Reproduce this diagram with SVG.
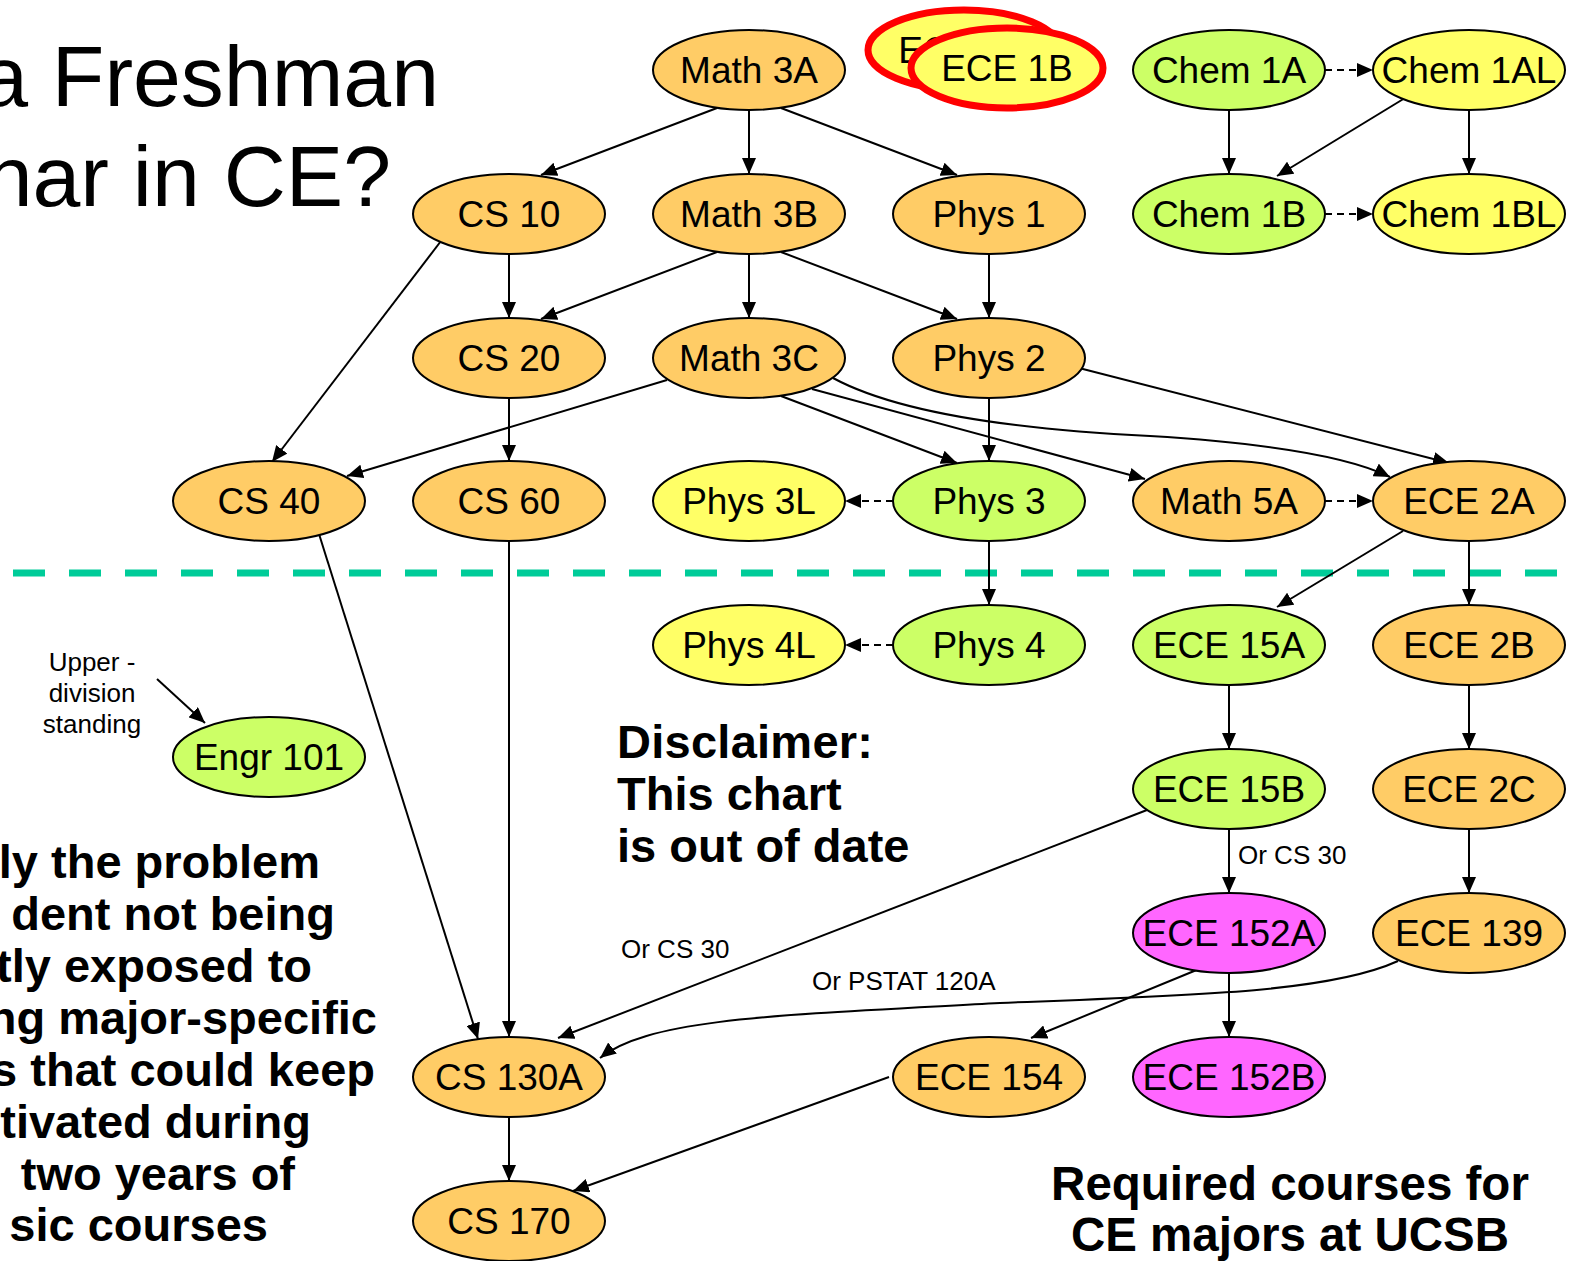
<svg xmlns="http://www.w3.org/2000/svg" width="1573" height="1261" viewBox="0 0 1573 1261">
<style>
.n ellipse{stroke:#000;stroke-width:2}
.or{fill:#FFCC66}.gr{fill:#CCFF66}.ye{fill:#FFFF66}.mg{fill:#FF66FF}
.n text{font-family:"Liberation Sans",Arial,sans-serif;font-size:37px;text-anchor:middle;fill:#000}
.c path{fill:none;stroke:#000;stroke-width:2;marker-end:url(#ah)}
.c path.d{stroke-dasharray:7 5}
.lbl{font-family:"Liberation Sans",Arial,sans-serif;font-size:26px;fill:#000}
.big{font-family:"Liberation Sans",Arial,sans-serif;font-size:86px;fill:#000;text-anchor:end}
.bold{font-family:"Liberation Sans",Arial,sans-serif;font-size:47px;font-weight:bold;fill:#000}
.red{stroke:#FF0000 !important;stroke-width:7 !important}
</style>
<defs>
<marker id="ah" markerUnits="userSpaceOnUse" markerWidth="16" markerHeight="14" refX="16" refY="7" orient="auto">
<path d="M0,0 L16,7 L0,14 z" fill="#000"/>
</marker>
</defs>
<rect width="1573" height="1261" fill="#fff"/>
<text class="big" x="439" y="106">a Freshman</text>
<text class="big" x="391" y="206">nar in CE?</text>
<line x1="13" y1="573" x2="1560" y2="573" stroke="#00CC99" stroke-width="7" stroke-dasharray="32 24"/>
<g class="c" id="connectors">
<path d="M717,108 L541,175"/>
<path d="M749,110 L749,174"/>
<path d="M781,108 L957,175"/>
<path class="d" d="M1325,70 L1373,70"/>
<path d="M1229,110 L1229,174"/>
<path d="M1405,98 L1277,176"/>
<path d="M1469,110 L1469,174"/>
<path class="d" d="M1325,214 L1373,214"/>
<path d="M509,254 L509,318"/>
<path d="M717,252 L541,319"/>
<path d="M749,254 L749,318"/>
<path d="M781,252 L957,319"/>
<path d="M989,254 L989,318"/>
<path d="M441,241 L272,462"/>
<path d="M509,398 L509,461"/>
<path d="M667,380 L347,476"/>
<path d="M781,396 L957,463"/>
<path d="M812,389 L1145,479"/>
<path d="M833,378 Q920,425 1150,436 Q1330,447 1390,477"/>
<path d="M989,398 L989,461"/>
<path d="M1079,368 L1449,463"/>
<path class="d" d="M893,501 L845,501"/>
<path class="d" d="M1325,501 L1373,501"/>
<path d="M989,541 L989,605"/>
<path class="d" d="M893,645 L845,645"/>
<path d="M1403,531 L1277,607"/>
<path d="M1469,541 L1469,605"/>
<path d="M1229,685 L1229,749"/>
<path d="M1469,685 L1469,749"/>
<path d="M1229,829 L1229,893"/>
<path d="M1469,829 L1469,893"/>
<path d="M1147,810 L558,1038"/>
<path d="M1398,961 C1330,992 1200,995 1000,1003 C780,1015 650,1018 600,1058"/>
<path d="M1199,969 L1031,1038"/>
<path d="M1229,973 L1229,1037"/>
<path d="M319,534 L478,1039"/>
<path d="M509,541 L509,1037"/>
<path d="M509,1117 L509,1181"/>
<path d="M889,1077 L573,1191"/>
<path d="M157,679 L205,723"/>
</g>
<text class="lbl" x="1238" y="864">Or CS 30</text>
<text class="lbl" x="621" y="958">Or CS 30</text>
<text class="lbl" x="812" y="990">Or PSTAT 120A</text>
<g class="lbl" text-anchor="middle">
<text x="92" y="671">Upper -</text>
<text x="92" y="702">division</text>
<text x="92" y="733">standing</text>
</g>
<g class="n">
<g id="math3a"><ellipse class="or" cx="749" cy="70" rx="96" ry="40"/><text x="749" y="83">Math 3A</text></g>
<g id="ece1b-back"><ellipse class="ye red" cx="964" cy="50" rx="96" ry="40"/><text x="964" y="63">ECE 1B</text></g>
<g id="ece1b"><ellipse class="ye red" cx="1007" cy="68" rx="96" ry="40"/><text x="1007" y="81">ECE 1B</text></g>
<g id="chem1a"><ellipse class="gr" cx="1229" cy="70" rx="96" ry="40"/><text x="1229" y="83">Chem 1A</text></g>
<g id="chem1al"><ellipse class="ye" cx="1469" cy="70" rx="96" ry="40"/><text x="1469" y="83">Chem 1AL</text></g>
<g id="cs10"><ellipse class="or" cx="509" cy="214" rx="96" ry="40"/><text x="509" y="227">CS 10</text></g>
<g id="math3b"><ellipse class="or" cx="749" cy="214" rx="96" ry="40"/><text x="749" y="227">Math 3B</text></g>
<g id="phys1"><ellipse class="or" cx="989" cy="214" rx="96" ry="40"/><text x="989" y="227">Phys 1</text></g>
<g id="chem1b"><ellipse class="gr" cx="1229" cy="214" rx="96" ry="40"/><text x="1229" y="227">Chem 1B</text></g>
<g id="chem1bl"><ellipse class="ye" cx="1469" cy="214" rx="96" ry="40"/><text x="1469" y="227">Chem 1BL</text></g>
<g id="cs20"><ellipse class="or" cx="509" cy="358" rx="96" ry="40"/><text x="509" y="371">CS 20</text></g>
<g id="math3c"><ellipse class="or" cx="749" cy="358" rx="96" ry="40"/><text x="749" y="371">Math 3C</text></g>
<g id="phys2"><ellipse class="or" cx="989" cy="358" rx="96" ry="40"/><text x="989" y="371">Phys 2</text></g>
<g id="cs40"><ellipse class="or" cx="269" cy="501" rx="96" ry="40"/><text x="269" y="514">CS 40</text></g>
<g id="cs60"><ellipse class="or" cx="509" cy="501" rx="96" ry="40"/><text x="509" y="514">CS 60</text></g>
<g id="phys3l"><ellipse class="ye" cx="749" cy="501" rx="96" ry="40"/><text x="749" y="514">Phys 3L</text></g>
<g id="phys3"><ellipse class="gr" cx="989" cy="501" rx="96" ry="40"/><text x="989" y="514">Phys 3</text></g>
<g id="math5a"><ellipse class="or" cx="1229" cy="501" rx="96" ry="40"/><text x="1229" y="514">Math 5A</text></g>
<g id="ece2a"><ellipse class="or" cx="1469" cy="501" rx="96" ry="40"/><text x="1469" y="514">ECE 2A</text></g>
<g id="phys4l"><ellipse class="ye" cx="749" cy="645" rx="96" ry="40"/><text x="749" y="658">Phys 4L</text></g>
<g id="phys4"><ellipse class="gr" cx="989" cy="645" rx="96" ry="40"/><text x="989" y="658">Phys 4</text></g>
<g id="ece15a"><ellipse class="gr" cx="1229" cy="645" rx="96" ry="40"/><text x="1229" y="658">ECE 15A</text></g>
<g id="ece2b"><ellipse class="or" cx="1469" cy="645" rx="96" ry="40"/><text x="1469" y="658">ECE 2B</text></g>
<g id="engr101"><ellipse class="gr" cx="269" cy="757" rx="96" ry="40"/><text x="269" y="770">Engr 101</text></g>
<g id="ece15b"><ellipse class="gr" cx="1229" cy="789" rx="96" ry="40"/><text x="1229" y="802">ECE 15B</text></g>
<g id="ece2c"><ellipse class="or" cx="1469" cy="789" rx="96" ry="40"/><text x="1469" y="802">ECE 2C</text></g>
<g id="ece152a"><ellipse class="mg" cx="1229" cy="933" rx="96" ry="40"/><text x="1229" y="946">ECE 152A</text></g>
<g id="ece139"><ellipse class="or" cx="1469" cy="933" rx="96" ry="40"/><text x="1469" y="946">ECE 139</text></g>
<g id="cs130a"><ellipse class="or" cx="509" cy="1077" rx="96" ry="40"/><text x="509" y="1090">CS 130A</text></g>
<g id="ece154"><ellipse class="or" cx="989" cy="1077" rx="96" ry="40"/><text x="989" y="1090">ECE 154</text></g>
<g id="ece152b"><ellipse class="mg" cx="1229" cy="1077" rx="96" ry="40"/><text x="1229" y="1090">ECE 152B</text></g>
<g id="cs170"><ellipse class="or" cx="509" cy="1221" rx="96" ry="40"/><text x="509" y="1234">CS 170</text></g>
</g>
<g class="bold">
<text x="617" y="758" textLength="256">Disclaimer:</text>
<text x="617" y="810">This chart</text>
<text x="617" y="862">is out of date</text>
</g>
<g class="bold" text-anchor="middle">
<text x="1290" y="1200" style="font-size:47.5px">Required courses for</text>
<text x="1290" y="1251" style="font-size:47.5px">CE majors at UCSB</text>
</g>
<g class="bold" text-anchor="end">
<text x="320" y="878">ly the problem</text>
<text x="335" y="930">dent not being</text>
<text x="312" y="982">tly exposed to</text>
<text x="377" y="1034">ng major-specific</text>
<text x="375" y="1086">s that could keep</text>
<text x="311" y="1138">tivated during</text>
<text x="295" y="1190">two years of</text>
<text x="268" y="1241">sic courses</text>
</g>
</svg>
